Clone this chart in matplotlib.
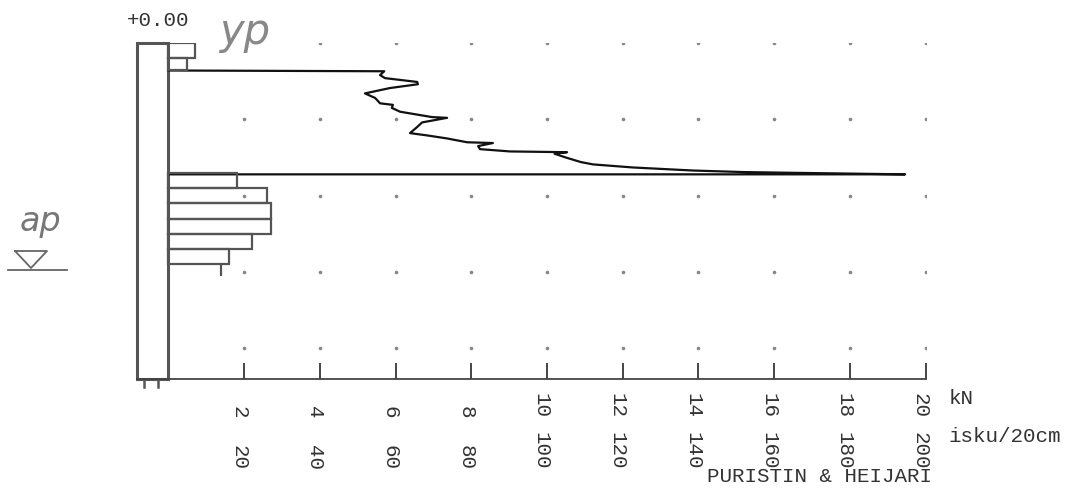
import matplotlib.pyplot as plt
from matplotlib.lines import Line2D
from matplotlib.patches import Rectangle

plt.rcParams['font.family'] = ['Liberation Mono', 'DejaVu Sans']

# press (puristin) force, kN against depth, m
press_kn = [0.0, 5.70, 5.59, 5.72, 6.57, 6.59, 5.85, 5.19, 5.46, 5.59, 5.93, 5.90,
            6.12, 6.96, 7.36, 6.70, 6.57, 6.38, 6.83, 7.36, 7.89, 8.57, 8.18, 8.23,
            9.02, 10.53, 10.2, 10.5, 10.9, 11.22, 12.27, 13.86, 15.18, 16.50, 19.46, 0.0]
press_depth = [0.36, 0.37, 0.42, 0.46, 0.51, 0.54, 0.59, 0.66, 0.72, 0.79, 0.81, 0.85,
               0.90, 0.97, 0.98, 1.04, 1.10, 1.18, 1.21, 1.25, 1.30, 1.31, 1.35, 1.39,
               1.42, 1.43, 1.45, 1.50, 1.56, 1.59, 1.63, 1.67, 1.69, 1.70, 1.72, 1.72]

# hammer (heijari) blows per 20 cm
blow_top = [0.0, 0.2, 1.7, 1.9, 2.1, 2.3, 2.5, 2.7]
blow_height = [0.2, 0.15, 0.2, 0.2, 0.2, 0.2, 0.2, 0.2]
blow_count = [7, 5, 18, 26, 27, 27, 22, 16]
last_blow = 14
last_top, last_bottom = 2.9, 3.05

kn_ticks = [2, 4, 6, 8, 10, 12, 14, 16, 18, 20]
isku_ticks = [20, 40, 60, 80, 100, 120, 140, 160, 180, 200]
grid_depths = [0, 1, 2, 3, 4]
max_depth = 4.4

W, H = 1079, 499
fig = plt.figure(figsize=(W / 100, H / 100), dpi=100)
ax = fig.add_axes([137 / W, 1 - 379 / H, (926 - 137) / W, (379 - 43) / H])
ax.set_xlim(-0.832, 20.013)
ax.set_ylim(max_depth, 0)

for s in ['top', 'right', 'left']:
    ax.spines[s].set_visible(False)
ax.spines['bottom'].set_color('#444')
ax.spines['bottom'].set_linewidth(1.3)
ax.set_yticks([])
ax.set_xticks(kn_ticks)
ax.tick_params(axis='x', direction='in', length=11.5, width=1.4, color='#444',
               labelbottom=False)

# dotted grid
for d in grid_depths:
    xs = [k for k in kn_ticks if not (d == 0 and k == 2)]
    ax.plot(xs, [d] * len(xs), linestyle='none', marker='o', ms=1.6, color='#888')

# left depth column
ax.add_patch(Rectangle((-0.832, 0), 0.832, max_depth, fill=False, lw=2.2,
                       ec='#555', clip_on=False))
for fx in [-0.65, -0.28]:
    ax.plot([fx, fx], [max_depth, max_depth + 0.1], color='#555', lw=1.8, clip_on=False)

# press curve
ax.plot(press_kn, press_depth, color='#111', lw=1.6, solid_joinstyle='round')

# blow bars on blow scale
ax2 = ax.twiny()
ax2.set_xlim(-8.32, 200.13)
ax2.set_axis_off()
ax2.barh(blow_top, blow_count, height=blow_height, left=0, align='edge',
         fill=False, edgecolor='#555', linewidth=1.6)
ax2.vlines(last_blow, last_top, last_bottom, color='#555', lw=1.6)

# tick labels
for k, b in zip(kn_ticks, isku_ticks):
    ax.annotate(str(k), xy=(k, 0), xycoords=('data', 'axes fraction'),
                xytext=(-4, -(418 - 379) * 0.72), textcoords='offset points',
                rotation=270, ha='center', va='bottom', fontsize=15, color='#333')
    ax.annotate(str(b), xy=(k, 0), xycoords=('data', 'axes fraction'),
                xytext=(-4, -(470 - 379) * 0.72), textcoords='offset points',
                rotation=270, ha='center', va='bottom', fontsize=15, color='#333')

fig.text(949 / W, 1 - 398 / H, 'kN', fontsize=15, va='center', color='#333')
fig.text(949 / W, 1 - 437 / H, 'isku/20cm', fontsize=15, va='center', color='#333')
fig.text(707 / W, 1 - 477 / H, 'PURISTIN & HEIJARI', fontsize=15, va='center', color='#333')
fig.text(127 / W, 1 - 21 / H, '+0.00', fontsize=15, va='center', color='#333')

# handwritten notes
fig.text(245 / W, 1 - 32 / H, 'yp', fontsize=30, family='DejaVu Sans', style='italic',
         weight='light', color='#888', ha='center', va='center')
fig.text(40 / W, 1 - 222 / H, 'ap', fontsize=24, family='DejaVu Sans', style='italic',
         weight='light', color='#777', ha='center', va='center')
tri_x = [15, 47, 31, 15]
tri_y = [251, 251, 268, 251]
fig.add_artist(Line2D([x / W for x in tri_x], [1 - y / H for y in tri_y],
                      color='#666', lw=1.3, transform=fig.transFigure))
fig.add_artist(Line2D([8 / W, 67 / W], [1 - 270 / H, 1 - 270 / H],
                      color='#666', lw=1.3, transform=fig.transFigure))

fig.savefig('out.png', dpi=100)
